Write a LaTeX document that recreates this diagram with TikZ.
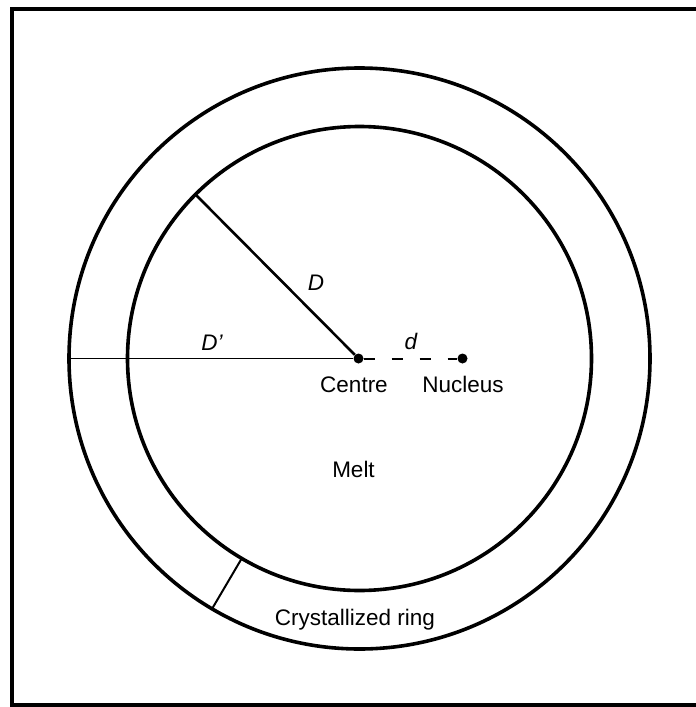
\documentclass[tikz,border=0pt]{standalone}
\usepackage{fontspec}
\setmainfont{Liberation Sans}
\usetikzlibrary{calc}
\begin{document}
\begin{tikzpicture}[x=1pt,y=-1pt,
  ringline/.style={line width=3.6pt},
  dotnode/.style={circle,fill=black,inner sep=0pt,minimum size=10pt},
  lbl/.style={font=\fontsize{22.5}{26}\selectfont,anchor=base,inner sep=0pt},
  ilbl/.style={font=\fontsize{22.5}{26}\selectfont\itshape,anchor=base,inner sep=0pt}]
\useasboundingbox (0,0) rectangle (696,707);
% frame
\draw[line width=4.5pt] (700,9) -- (12,9) -- (12,705.5) -- (700,705.5);
% circles
\coordinate (c) at (359.5,358.5);
\draw[ringline] (c) circle[radius=290.5pt];
\draw[ringline] (c) circle[radius=232pt];
% dots
\node[dotnode] (centre) at (358.5,358.5) {};
\node[dotnode] (nucleus) at (462.5,358.5) {};
% radius lines
\coordinate (dtop) at ($(c)+(135:232pt)$);
\coordinate (dleft) at ($(c)+(180:290.5pt)$);
\draw[line width=2.6pt] (centre) -- (dtop);
\draw[line width=1.6pt] (centre) -- (dleft);
\draw[line width=2pt,dash pattern=on 11pt off 17pt] (centre) -- (nucleus);
% ring marker
\coordinate (rin) at ($(c)+(239.5:232pt)$);
\coordinate (rout) at ($(c)+(239.5:290.5pt)$);
\draw[line width=2pt] (rin) -- (rout);
% labels
\node[ilbl] (lD) at (316,290) {D};
\node[ilbl] (lDp) at (212,350) {D\char"27};
\node[ilbl] (ld) at (411,349) {d};
\node[lbl] (lcentre) at (354,392) {Centre};
\node[lbl] (lnucleus) at (463,392) {Nucleus};
\node[lbl] (lmelt) at (353.5,477) {Melt};
\node[lbl] (lring) at (355,625) {Crystallized ring};
\end{tikzpicture}
\end{document}
